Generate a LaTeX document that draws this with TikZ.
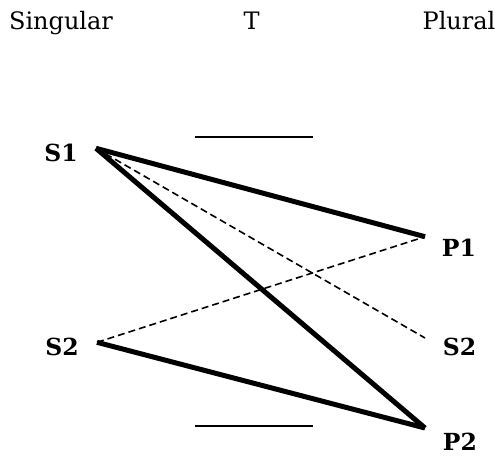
\documentclass[tikz,border=0pt]{standalone}
\usepackage{fontspec}
\setmainfont{DejaVu Serif}
\begin{document}
\begin{tikzpicture}[x=1pt,y=-1pt,
  lbl/.style={font=\fontsize{24}{28}\selectfont, anchor=base, inner sep=0pt},
  blbl/.style={lbl, font=\fontsize{23.5}{28}\selectfont\bfseries},
  thickln/.style={line width=5pt},
  dashln/.style={line width=1.6pt, dash pattern=on 7pt off 4pt},
  barln/.style={line width=1.8pt}]
\useasboundingbox (0,0) rectangle (502,455);
\node[lbl] (sing) at (61,29.3) {Singular};
\node[lbl] (t) at (251.5,29.3) {T};
\node[lbl] (plur) at (459,29.3) {Plural};
\node[blbl] (ls1) at (61,161.7) {S1};
\node[blbl] (ls2) at (62,355) {S2};
\node[blbl] (lp1) at (459,256.7) {P1};
\node[blbl] (ls2r) at (459.5,355) {S2};
\node[blbl] (lp2) at (460,450) {P2};
\coordinate (s1) at (96,148.3);
\coordinate (s2) at (97,342.3);
\coordinate (p1) at (425,236.7);
\coordinate (s2r) at (425,338);
\coordinate (p2) at (425,428);
\coordinate (ta) at (195,136.7);
\coordinate (tb) at (313,136.7);
\coordinate (ba) at (195,425.7);
\coordinate (bb) at (313,425.7);
\draw[barln] (ta) -- (tb);
\draw[barln] (ba) -- (bb);
\draw[dashln] (s1) -- (s2r);
\draw[dashln] (s2) -- (p1);
\draw[thickln] (s1) -- (p1);
\draw[thickln] (s1) -- (p2);
\draw[thickln] (s2) -- (p2);
\end{tikzpicture}
\end{document}
